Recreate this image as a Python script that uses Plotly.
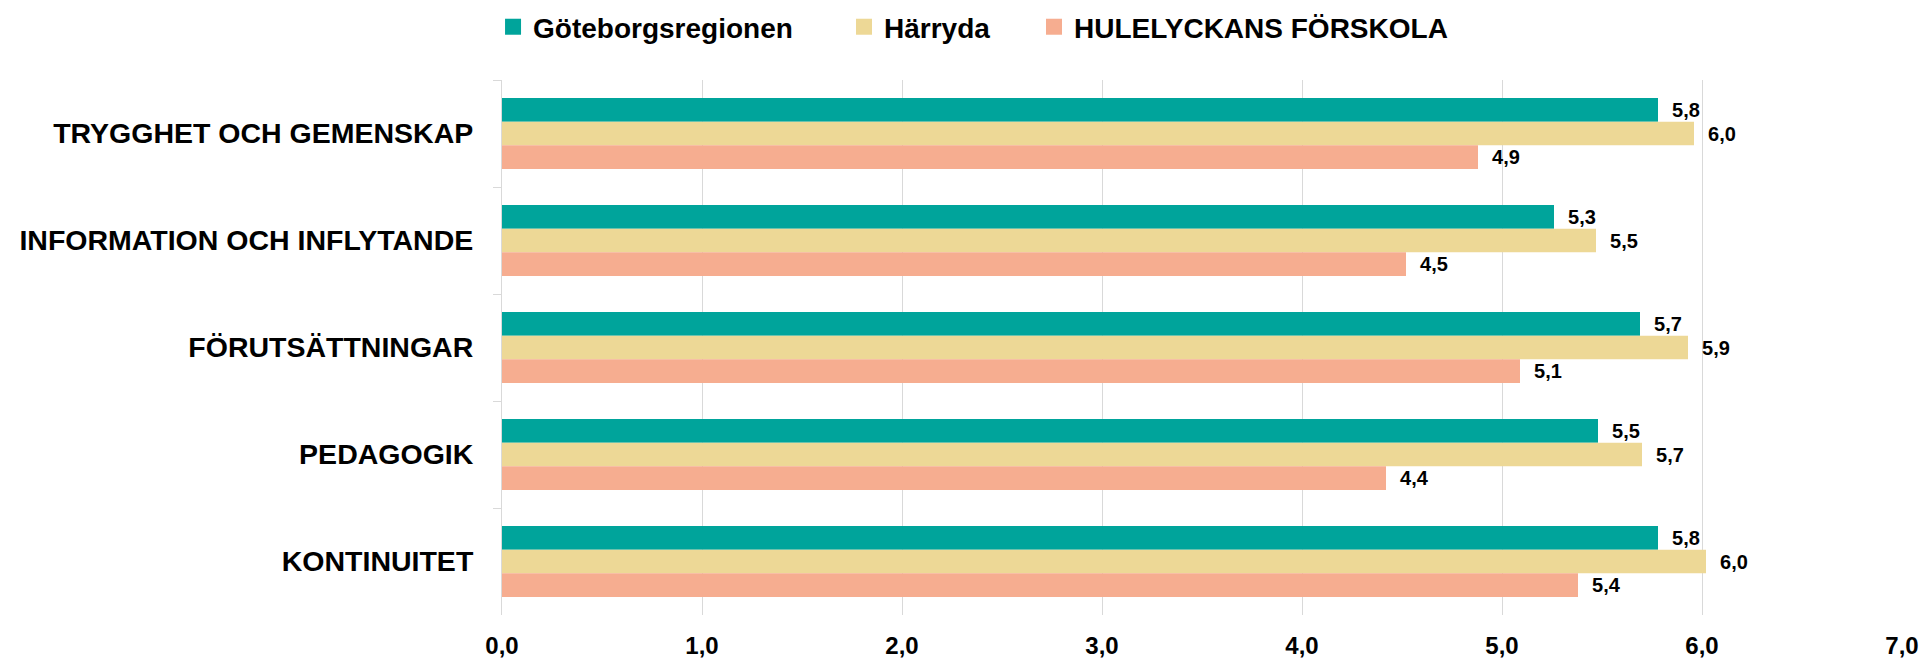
import plotly.graph_objects as go

categories = ["TRYGGHET OCH GEMENSKAP", "INFORMATION OCH INFLYTANDE", "FÖRUTSÄTTNINGAR",
              "PEDAGOGIK", "KONTINUITET"]
series_names = ["Göteborgsregionen", "Härryda", "HULELYCKANS FÖRSKOLA"]
goteborg = [5.78, 5.26, 5.69, 5.48, 5.78]
harryda = [5.96, 5.47, 5.93, 5.70, 6.02]
hulelyckan = [4.88, 4.52, 5.09, 4.42, 5.38]
x_ticks = [0, 1, 2, 3, 4, 5, 6, 7]

colors = ["#00A49B", "#EDD896", "#F6AD90"]
values = [goteborg, harryda, hulelyckan]
legends = ["legend", "legend2", "legend3"]

FONT = "Liberation Sans"

fig = go.Figure()
for name, vals, col, lg in zip(series_names, values, colors, legends):
    fig.add_trace(go.Bar(
        y=categories, x=vals, orientation="h", name=name,
        marker=dict(color=col, line=dict(width=0)),
        texttemplate="\u00a0\u00a0%{x:.1f}", textposition="outside",
        textfont=dict(family=FONT, size=20, color="#000000", weight="bold"),
        constraintext="none", cliponaxis=False, showlegend=False,
    ))
    fig.add_trace(go.Scatter(
        x=[None], y=[None], mode="markers", name=name, legend=lg,
        marker=dict(symbol="square", size=18, color=col, line=dict(width=0)),
        showlegend=True,
    ))

leg_common = dict(orientation="h", yanchor="middle", xanchor="left",
                  font=dict(family=FONT, size=28, color="#000000", weight="bold"),
                  bgcolor="rgba(0,0,0,0)", borderwidth=0)

fig.update_layout(
    width=1924, height=660,
    margin=dict(l=502, r=22, t=80, b=45, autoexpand=False),
    paper_bgcolor="white", plot_bgcolor="white",
    separators=", ",
    barmode="group", bargap=0.336, bargroupgap=0,
    legend=dict(x=-0.0064, y=1.099, **leg_common),
    legend2=dict(x=0.2443, y=1.099, **leg_common),
    legend3=dict(x=0.38, y=1.099, **leg_common),
    xaxis=dict(range=[0, 7], tickvals=x_ticks, tickformat=".1f",
               showgrid=True, gridcolor="#D9D9D9", gridwidth=1,
               zeroline=False, showline=False, ticks="",
               ticklabelstandoff=14,
               tickfont=dict(family=FONT, size=24, color="#000000", weight="bold")),
    yaxis=dict(autorange="reversed", showline=True, linecolor="#D9D9D9", linewidth=1,
               ticks="outside", tickson="boundaries", ticklen=8, tickcolor="#D9D9D9",
               ticklabelstandoff=22, showgrid=False,
               tickfont=dict(family=FONT, size=28.5, color="#000000", weight="bold")),
)

fig.write_html("out.html", config={"displayModeBar": False},
               post_script="document.body.style.margin='0';document.body.style.overflow='hidden';")
